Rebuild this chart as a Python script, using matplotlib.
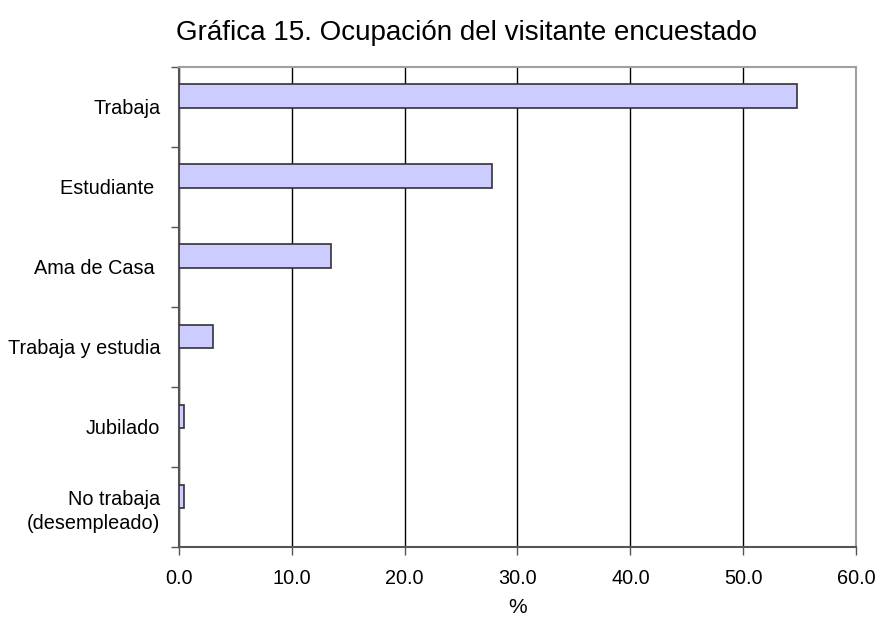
import matplotlib
matplotlib.use("Agg")
import matplotlib.pyplot as plt
import numpy as np

plt.rcParams['font.family'] = ['Liberation Sans', 'DejaVu Sans']

categories = ["Trabaja", "Estudiante ", "Ama de Casa ", "Trabaja y estudia", "Jubilado", "No trabaja\n(desempleado)"]
values = [54.8, 27.7, 13.5, 3.0, 0.45, 0.45]
xticks = [0, 10, 20, 30, 40, 50, 60]
xticklabels = ["0.0", "10.0", "20.0", "30.0", "40.0", "50.0", "60.0"]

fig = plt.figure(figsize=(8.79, 6.17), dpi=100)
ax = fig.add_axes([179/879, 1-547/617, (856-179)/879, (547-66.7)/617])

n = len(categories)
ypos = np.arange(n)[::-1]
ax.barh(ypos + 0.134, values, height=0.29, color="#CCCCFF", edgecolor="#333333", linewidth=1.2, zorder=3)

ax.set_xlim(0, 60)
ax.set_ylim(-0.5, n - 0.5)
ax.set_xticks(xticks)
ax.set_xticklabels(xticklabels, fontsize=14.3)
ax.xaxis.grid(True, color="black", linewidth=1.0, zorder=0)
ax.set_axisbelow(True)

ax.set_yticks(ypos)
ax.set_yticklabels(categories, fontsize=14.3, linespacing=1.35)
ax.tick_params(axis='y', length=0, pad=13.5)
ax.set_yticks(np.arange(n + 1) - 0.5, minor=True)
ax.tick_params(axis='y', which='minor', length=6, width=1, color="#555555")
ax.tick_params(axis='x', length=6, width=1, color="#555555", pad=10)

for s in ['top', 'right']:
    ax.spines[s].set_color("#A0A0A0")
    ax.spines[s].set_linewidth(1.5)
for s in ['left', 'bottom']:
    ax.spines[s].set_color("#555555")
    ax.spines[s].set_linewidth(1.5)

ax.set_xlabel("%", fontsize=15, labelpad=7)
fig.text(467 / 879, 1 - 33 / 617, "Gráfica 15. Ocupación del visitante encuestado",
         ha="center", va="center", fontsize=20)

fig.savefig("out.png", dpi=100)
